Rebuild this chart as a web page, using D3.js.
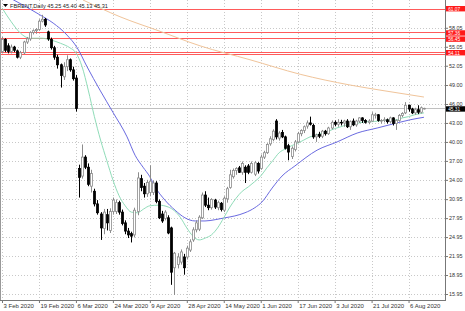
<!DOCTYPE html>
<html>
<head>
<meta charset="utf-8">
<script src="https://cdn.jsdelivr.net/npm/d3@7"></script>
<style>
  body { margin: 0; background: #fff; }
  svg { display: block; font-family: "Liberation Sans", Arial, sans-serif; }
</style>
</head>
<body>
<svg width="465" height="311"></svg>
<script>
// daily bars, index 0 = 3 Feb 2020
const opens = [54.3,56.2,55.2,54.3,55.0,54.4,53.4,54.1,55.8,56.3,57.3,57.6,57.8,59.1,59.4,57.4,56.2,54.9,53.4,52.2,
  50.3,51.9,53.0,51.4,50.1,35.8,34.6,37.6,36.0,33.0,32.2,30.2,28.6,26.3,28.5,26.0,29.0,29.0,30.4,28.9,
  27.2,25.9,25.5,25.3,29.0,34.2,33.0,31.8,32.0,32.0,33.5,30.6,28.6,27.9,28.0,26.4,20.1,20.6,21.0,21.8,
  21.8,22.9,24.5,26.1,26.2,28.0,31.6,30.0,29.6,30.8,29.6,30.3,29.2,31.0,32.8,34.5,35.5,35.9,35.2,36.0,
  36.2,35.2,34.9,36.6,35.8,37.6,38.3,39.7,40.4,43.3,40.6,41.5,40.8,39.4,37.7,38.8,40.0,41.3,41.8,42.5,
  43.0,42.6,40.8,41.2,40.9,41.7,41.3,42.2,43.1,42.8,43.1,43.0,43.3,42.4,43.3,42.7,43.3,43.8,43.4,43.1,
  43.3,44.2,44.3,43.3,43.4,43.5,43.2,43.8,42.9,43.4,44.2,44.6,45.8,45.2,44.6,45.1,44.7,45.25]
const highs = [56.6,56.4,55.6,55.4,55.2,54.6,54.4,56.0,56.6,57.5,57.8,58.0,59.4,60.1,59.6,57.6,56.5,55.2,53.8,52.4,
  52.6,53.7,53.2,51.9,50.6,36.4,39.6,37.9,36.6,35.6,32.6,30.8,28.9,29.4,29.4,29.5,31.2,30.9,30.7,29.3,
  27.6,26.4,25.8,29.6,35.2,34.8,33.5,34.0,36.3,33.9,33.8,30.9,29.1,29.2,28.4,26.6,22.6,22.4,23.0,22.3,
  23.6,24.6,26.5,27.6,28.4,32.0,32.2,31.2,31.1,31.0,30.7,30.5,31.4,32.9,35.6,35.8,36.0,36.2,36.9,36.3,
  36.5,36.9,37.0,36.8,38.0,38.6,39.8,40.9,42.0,43.6,41.7,41.9,41.0,39.7,39.3,40.3,41.6,42.0,42.6,43.4,
  44.0,42.9,41.3,41.6,41.9,41.9,42.4,43.4,43.4,43.6,43.5,43.5,43.6,43.4,43.7,43.5,43.9,43.9,43.6,43.6,
  44.7,44.6,44.4,43.6,43.9,43.7,44.0,43.9,43.6,44.4,44.7,46.3,45.9,45.4,45.4,45.8,45.6,45.40]
const lows = [54.0,54.2,54.0,54.0,54.2,53.2,53.1,53.9,55.5,56.0,57.0,57.1,57.6,58.9,58.2,56.0,54.6,53.0,51.6,48.6,
  49.8,51.2,51.1,49.7,44.8,31.2,34.2,35.7,33.0,32.0,29.8,28.5,24.5,25.4,26.0,25.6,28.5,28.6,28.5,26.8,
  25.4,24.8,24.1,24.9,28.4,32.2,31.2,31.3,31.4,31.6,30.3,27.8,27.2,27.6,25.4,17.4,15.8,20.0,20.6,19.0,
  21.4,22.6,24.2,25.7,25.9,27.8,29.7,29.2,29.3,29.4,29.2,29.0,28.9,30.4,32.6,34.2,34.8,35.1,34.8,33.5,
  34.9,35.0,34.6,35.0,35.6,37.3,38.1,39.4,40.1,40.4,40.2,40.6,38.8,37.1,37.3,38.5,39.8,40.9,41.4,42.1,
  42.6,40.5,40.0,40.6,40.6,41.0,41.1,42.0,42.5,42.4,42.6,42.4,42.2,41.9,42.5,42.4,43.0,43.0,42.9,42.8,
  43.2,43.7,43.2,42.9,43.1,42.9,43.0,42.6,41.9,43.2,43.9,44.4,44.8,44.4,44.3,44.4,44.5,45.13]
const closes = [56.2,54.5,54.3,55.0,54.5,53.4,54.1,55.8,56.3,57.3,57.6,57.8,59.1,59.4,58.5,56.3,54.9,53.4,52.2,50.5,
  51.9,53.0,51.4,50.0,45.3,34.4,37.6,36.0,33.3,35.0,30.2,28.8,26.4,28.9,27.2,29.0,30.8,30.4,28.9,27.1,
  25.9,25.3,25.1,29.2,34.3,32.8,31.8,33.6,33.8,33.5,30.6,28.0,27.5,28.9,25.6,19.4,22.4,21.8,22.6,20.1,
  23.2,24.2,26.1,27.2,28.1,31.6,30.0,29.6,30.9,29.7,30.4,29.3,31.1,32.6,34.8,35.5,35.8,35.2,36.6,35.2,
  35.2,36.6,36.7,35.4,37.6,38.3,39.6,40.5,41.7,40.8,41.4,40.8,39.0,38.4,39.0,40.0,41.3,41.8,42.4,43.0,
  42.8,40.8,41.1,40.9,41.7,41.3,42.2,43.1,42.8,43.1,43.0,43.3,42.4,43.2,42.7,43.3,43.8,43.4,43.1,43.3,
  44.3,44.3,43.4,43.4,43.5,43.2,43.8,42.9,43.4,44.2,44.5,45.8,45.2,44.6,45.1,44.7,45.4,45.31]

// moving averages (bar index, price)
const fastMaBars = [0,3,6,9,13,16,19,22,24,26,28,30,32,34,36,38,40,42,44,46,48,51,54,56,58,60,62,64,66,68,70,
  72,74,76,78,80,82,84,86,88,90,92,94,96,98,100,102,104,106,108,110,112,114,116,118,120,122,124,126,128,130,132,134,136,137]
const fastMaVals = [61.2,59.0,57.2,56.4,56.4,56.1,55.6,54.9,54.1,51.9,48.2,44.0,40.3,37.1,34.0,31.5,29.9,28.9,28.8,29.4,
  29.9,30.0,29.7,29.1,28.0,26.4,25.1,24.5,24.8,25.3,26.4,28.0,29.7,31.1,32.2,32.9,33.7,34.6,35.9,37.1,38.3,38.9,
  39.4,39.8,40.3,40.8,41.1,41.4,41.7,42.1,42.4,42.7,42.8,43.0,43.2,43.2,43.3,43.4,43.5,43.5,43.8,44.0,44.3,44.5,44.6]
const slowMaBars = [0,3.6,12.3,16.6,21.1,24.4,27.6,31.8,36,40.6,43.2,45.8,48,49.7,52.9,56.2,59.4,62.7,65.9,69.2,
  72.4,75.6,78.9,82.1,84.4,87.7,90.9,95.1,102.3,108.8,115.3,121.8,128.2,132.5,137]
const slowMaVals = [63.4,62.5,60.1,58.8,56.9,54.9,51.9,48.2,44.7,40.8,37.9,36.0,34.5,32.9,30.8,29.2,28.0,27.5,27.5,27.7,
  28.0,28.3,28.8,29.6,30.5,32.7,34.6,36.2,38.7,40.0,41.4,42.2,43.0,43.5,43.9]
const longMaBars = [26.3,38.3,51.3,64.3,80.5,96.8,113,122.7,137]
const longMaVals = [62.45,59.8,57.5,55.2,53.0,50.7,49.0,48.2,47.1]

const priceTicks = [58.05,55.05,52.05,49.00,46.00,43.00,40.00,37.00,34.00,30.95,27.95,24.95,21.95,18.95,15.95]
const levels = [61.07,57.36,56.45,54.11]
const levelLines = [61.07,57.36,56.45,54.30,53.85]
const dateTickBars = [0,12,24,36,48,60,72,84,96,108,120,132]
const dateTickLabels = ['3 Feb 2020','19 Feb 2020','6 Mar 2020','24 Mar 2020','9 Apr 2020','28 Apr 2020',
  '14 May 2020','1 Jun 2020','17 Jun 2020','3 Jul 2020','21 Jul 2020','6 Aug 2020']
const title = 'FBRENT,Daily  45.25 45.40 45.13 45.31'
const lastPrice = 45.31

const svg = d3.select('svg')
const plotW = 445, plotH = 300

const x = d3.scaleLinear().domain([0, 137]).range([2, 2 + 137 * 3.08])
const y = d3.scaleLinear().domain([15.95, 61.07]).range([294, 8.7])

svg.append('defs').append('clipPath').attr('id', 'plot')
  .append('rect').attr('width', plotW).attr('height', plotH)

const crisp = v => Math.round(v) + 0.5

// grid
const grid = svg.append('g').attr('stroke', '#c8c8c8').attr('stroke-dasharray', '1,2')
grid.selectAll('.hg').data(priceTicks).enter().append('line')
  .attr('x1', 0).attr('x2', plotW)
  .attr('y1', d => crisp(y(d))).attr('y2', d => crisp(y(d)))
grid.selectAll('.vg').data(dateTickBars).enter().append('line')
  .attr('y1', 0).attr('y2', plotH)
  .attr('x1', d => crisp(x(d))).attr('x2', d => crisp(x(d)))

const plot = svg.append('g').attr('clip-path', 'url(#plot)')

// current price line
plot.append('line').attr('x1', 0).attr('x2', plotW)
  .attr('y1', crisp(y(lastPrice))).attr('y2', crisp(y(lastPrice)))
  .attr('stroke', '#c0c0c0')

// red levels
plot.selectAll('.lvl').data(levelLines).enter().append('line')
  .attr('x1', 0).attr('x2', plotW)
  .attr('y1', d => crisp(y(d))).attr('y2', d => crisp(y(d)))
  .attr('stroke', '#ff5a5a')

// moving averages
const maLine = d3.line().x(d => x(d[0])).y(d => y(d[1])).curve(d3.curveMonotoneX)
const mas = [
  {bars: longMaBars, vals: longMaVals, color: '#f0c49a'},
  {bars: slowMaBars, vals: slowMaVals, color: '#6a6ae0'},
  {bars: fastMaBars, vals: fastMaVals, color: '#8fdcb8'}
]
mas.forEach(m => {
  plot.append('path')
    .datum(m.bars.map((b, i) => [b, m.vals[i]]))
    .attr('d', maLine)
    .attr('fill', 'none')
    .attr('stroke', m.color)
    .attr('stroke-width', 1)
})

// candles
const bars = closes.map((c, i) => ({i, o: opens[i], h: highs[i], l: lows[i], c}))
const candle = plot.selectAll('.candle').data(bars).enter().append('g')
candle.append('line')
  .attr('x1', d => Math.round(x(d.i)) + 0.5).attr('x2', d => Math.round(x(d.i)) + 0.5)
  .attr('y1', d => y(d.h)).attr('y2', d => y(d.l))
  .attr('stroke', d => d.c >= d.o ? '#8c8c8c' : '#000')
candle.append('rect')
  .attr('x', d => Math.round(x(d.i)) - 0.5)
  .attr('width', 2)
  .attr('y', d => y(Math.max(d.o, d.c)))
  .attr('height', d => Math.max(0.6, y(Math.min(d.o, d.c)) - y(Math.max(d.o, d.c))))
  .attr('fill', d => d.c >= d.o ? '#fff' : '#000')
  .attr('stroke', d => d.c >= d.o ? '#8c8c8c' : '#000')
  .attr('stroke-width', 0.8)

// axes frame
svg.append('line').attr('x1', plotW + 0.5).attr('x2', plotW + 0.5).attr('y1', 0).attr('y2', plotH + 1)
  .attr('stroke', '#777')
svg.append('line').attr('x1', 0).attr('x2', plotW + 1).attr('y1', plotH + 0.5).attr('y2', plotH + 0.5)
  .attr('stroke', '#777')
svg.append('line').attr('x1', 0.5).attr('x2', 0.5).attr('y1', 0).attr('y2', plotH)
  .attr('stroke', '#999')

// price axis
const yAxis = d3.axisRight(y).tickValues(priceTicks).tickSize(3).tickPadding(1)
  .tickFormat(d => d.toFixed(2))
const yAxisG = svg.append('g').attr('transform', `translate(${plotW},0)`).call(yAxis)
yAxisG.select('.domain').remove()
yAxisG.selectAll('.tick line').attr('stroke', '#777')
yAxisG.selectAll('.tick text').attr('font-size', 5.4).attr('fill', '#333')
  .attr('font-family', '"Liberation Sans", Arial, sans-serif')

// level labels, nudged apart slightly where two boxes meet
const boxH = 5.4
const labelNudge = [0, 0.8, 1.2, 0]
const lvlG = svg.append('g').selectAll('g').data(levels).enter().append('g')
  .attr('transform', (d, i) => `translate(${plotW + 1},${y(d) + labelNudge[i]})`)
lvlG.append('rect').attr('x', 0).attr('y', -boxH / 2).attr('width', 19).attr('height', boxH).attr('fill', '#ff1a1a')
lvlG.append('text').attr('x', 2.2).attr('y', 1.8).attr('font-size', 4.8).attr('fill', '#fff').text(d => d.toFixed(2))

const lastG = svg.append('g').attr('transform', `translate(${plotW + 1},${y(lastPrice) + 0.6})`)
lastG.append('rect').attr('x', 0).attr('y', -boxH / 2).attr('width', 19).attr('height', boxH).attr('fill', '#000')
lastG.append('text').attr('x', 2.2).attr('y', 1.8).attr('font-size', 4.8).attr('fill', '#fff').text(lastPrice.toFixed(2))

// date axis
const xAxis = d3.axisBottom(x).tickValues(dateTickBars).tickSize(3).tickPadding(1)
  .tickFormat((d, i) => dateTickLabels[i])
const xAxisG = svg.append('g').attr('transform', `translate(0,${plotH})`).call(xAxis)
xAxisG.select('.domain').remove()
xAxisG.selectAll('.tick line').attr('stroke', '#777')
xAxisG.selectAll('.tick text').attr('font-size', 6).attr('fill', '#333')
  .attr('text-anchor', 'start').attr('dx', 1)
  .attr('font-family', '"Liberation Sans", Arial, sans-serif')

// title
svg.append('path').attr('d', 'M3,4 L8,4 L5.5,7 Z').attr('fill', '#000')
svg.append('text').attr('x', 10).attr('y', 8).attr('font-size', 5.6).attr('fill', '#222').text(title)
</script>
</body>
</html>
